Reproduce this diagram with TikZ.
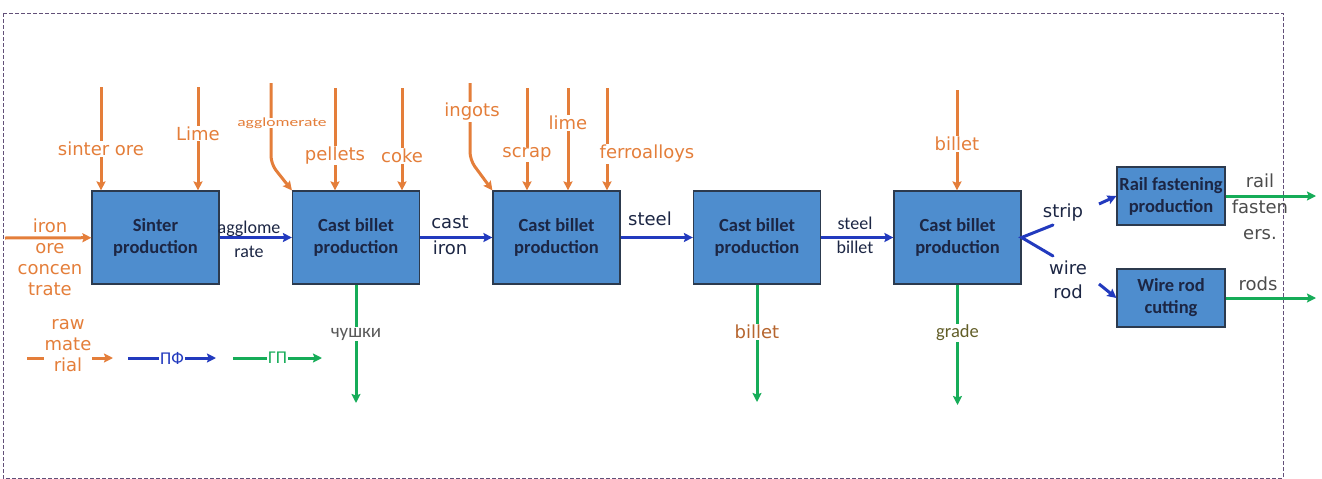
\documentclass[tikz,border=0pt]{standalone}
\usepackage{fontspec}
\setmainfont{DejaVu Sans}
\newfontfamily\calfont{Carlito}
\usetikzlibrary{arrows.meta}

\definecolor{ore}{RGB}{228,126,58}
\definecolor{semi}{RGB}{34,58,190}
\definecolor{good}{RGB}{22,172,88}
\definecolor{boxfill}{RGB}{78,141,206}
\definecolor{boxline}{RGB}{44,58,78}
\definecolor{navy}{RGB}{28,38,68}
\definecolor{frame}{RGB}{98,80,120}

\begin{document}
\begin{tikzpicture}[x=1pt,y=-1pt,>={Stealth[length=9pt,width=9pt,inset=1.5pt]},line width=3pt,
                    node distance=200.5pt]
  \tikzstyle{unit}=[draw=boxline,line width=1.2pt,fill=boxfill,text=navy,align=center,
                    font=\calfont\bfseries\fontsize{18.5}{22}\selectfont,
                    minimum width=127pt,minimum height=93pt,inner sep=0pt]
  \tikzstyle{small unit}=[unit,minimum width=108pt,minimum height=58pt]
  \tikzstyle{lbl}=[font=\fontsize{18}{22}\selectfont,align=center,inner sep=1pt]
  \tikzstyle{cal}=[lbl,font=\calfont\fontsize{18}{24}\selectfont]
  \tikzstyle{tag}=[lbl,fill=white,text=ore]
  \tikzstyle{feed}=[ore,->]
  \tikzstyle{flow}=[semi,->]
  \tikzstyle{yield}=[good,->]

  \useasboundingbox (0,0) rectangle (1322,479);
  \draw[frame,line width=1pt,dash pattern=on 4pt off 2pt] (3,13) rectangle (1283,478);

  % main line
  \node[unit]       (sinter)           at (155.5,237.5) {Sinter\\production};
  \node[unit]       (blast)   [right of=sinter]  {Cast billet\\production};
  \node[unit]       (steelmk) [right of=blast]   {Cast billet\\production};
  \node[unit]       (caster)  [right of=steelmk] {Cast billet\\production};
  \node[unit]       (rolling) [right of=caster]  {Cast billet\\production};
  \node[small unit] (fasten)           at (1171,196) {Rail fastening\\production};
  \node[small unit] (cutting)          at (1171,298) {Wire rod\\cutting};

  % raw inputs from above
  \coordinate (sinterore) at (101,87);
  \coordinate (limeA)     at (198,87);
  \coordinate (pellets)   at (335,88);
  \coordinate (coke)      at (402,88);
  \coordinate (scrap)     at (527,88);
  \coordinate (limeB)     at (568,88);
  \coordinate (ferro)     at (607,88);
  \coordinate (billetin)  at (957,90);

  \path[feed] (sinterore) edge node[tag,pos=.6]  {sinter ore} (sinterore |- sinter.north)
              (limeA)     edge node[tag,pos=.45] {Lime}       (limeA |- sinter.north)
              (pellets)   edge node[tag,pos=.66] {pellets}    (pellets |- blast.north)
              (coke)      edge node[tag,pos=.66] {coke}       (coke |- blast.north)
              (scrap)     edge node[tag,pos=.65] {scrap}      (scrap |- steelmk.north)
              (limeB)     edge node[tag,pos=.34] {lime}       (limeB |- steelmk.north)
              (billetin)  edge node[tag,pos=.54] {billet}     (billetin |- rolling.north);
  \draw[feed] (ferro) -- (ferro |- steelmk.north);
  \node[tag] (ferrolbl) at (647,154) {ferroalloys};

  \coordinate (aggtop)  at (271,83);
  \coordinate (aggbend) at (271,164);
  \draw[feed,rounded corners=8pt] (aggtop) -- (aggbend) -- (blast.north west);
  \node[tag,inner sep=0pt] (agglbl) at (282,123)
       {\calfont\fontsize{12.5}{13}\selectfont\scalebox{1.4}[1]{agglomerate}};

  \coordinate (ingtop)  at (470,83);
  \coordinate (ingbend) at (470,160);
  \draw[feed,rounded corners=8pt] (ingtop) -- (ingbend) -- (steelmk.north west);
  \node[tag] (inglbl) at (472,112) {ingots};

  % iron ore from the left
  \coordinate (orestart) at (5,238);
  \draw[feed] (orestart) -- (sinter);
  \node[lbl,text=ore,font=\fontsize{18}{21}\selectfont] (orelbl) at (50,257.5) {iron\\ore\\concen\\trate};

  % semi-products
  \draw[flow] (sinter)  -- (blast);
  \draw[flow] (blast)   -- (steelmk);
  \draw[flow] (steelmk) -- (caster);
  \draw[flow] (caster)  -- (rolling);
  \node[cal,text=navy]  (agglo)  at (249,239.5) {agglome\\rate};
  \node[lbl,text=navy,font=\fontsize{18}{26}\selectfont] (castiron) at (450,235) {cast\\iron};
  \node[lbl,text=navy]  (steel)  at (650,219) {steel};
  \node[cal,text=navy]  (sbillet) at (855,235) {steel\\billet};

  \coordinate (stripend) at (1053,225);
  \coordinate (wireend)  at (1053,256);
  \draw[semi,line cap=round] (stripend) -- (rolling.east) -- (wireend);
  \node[lbl,text=navy] (strip) at (1063,213) {strip};
  \node[lbl,text=navy,font=\fontsize{18}{24}\selectfont] (wire) at (1068,280) {wire\\rod};
  \coordinate (stripgo) at (1099,204);
  \coordinate (wirego)  at (1099,284);
  \draw[flow] (stripgo) -- (fasten.west);
  \draw[flow] (wirego)  -- (cutting.west);

  % products
  \coordinate (pigend)    at (356,403);
  \coordinate (billetout) at (757,402);
  \coordinate (gradeout)  at (957.5,405);
  \path[yield] (blast)  edge node[tag,pos=.42,text=black!65,font=\calfont\fontsize{19}{20}\selectfont] {чушки} (pigend)
               (caster) edge node[tag,pos=.4,text=ore!80!black]  {billet} (billetout)
               (rolling) edge node[tag,pos=.4,text=olive!60!black,font=\calfont\fontsize{18.5}{20}\selectfont] {grade} (gradeout);

  \coordinate (railout) at (1316,196);
  \coordinate (rodsout) at (1316,298);
  \draw[yield] (fasten)  -- (railout);
  \draw[yield] (cutting) -- (rodsout);
  \node[lbl,text=black!70,font=\fontsize{18}{26}\selectfont] (raillbl) at (1260,207) {rail\\fasten\\ers.};
  \node[lbl,text=black!70] (rodslbl) at (1258,284) {rods};

  % legend
  \coordinate (rawa) at (27,358);  \coordinate (rawb) at (113,358);
  \coordinate (pfa)  at (128,358); \coordinate (pfb)  at (216,358);
  \coordinate (gpa)  at (233,358); \coordinate (gpb)  at (322,358);
  \draw[feed] (rawa) -- (rawb);
  \node[tag,font=\fontsize{18}{21}\selectfont] (rawlbl) at (68,346) {raw\\mate\\rial};
  \path[flow]  (pfa) edge node[tag,text=semi,font=\calfont\fontsize{18}{20}\selectfont] {ПФ} (pfb);
  \path[yield] (gpa) edge node[tag,text=good,font=\calfont\fontsize{18}{20}\selectfont] {ГП} (gpb);

\end{tikzpicture}
\end{document}
